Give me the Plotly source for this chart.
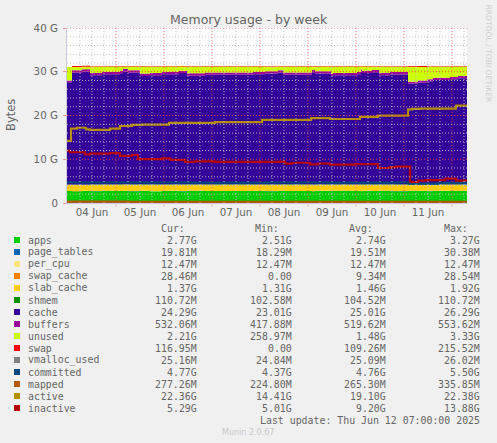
import pandas as pd
import plotly.graph_objects as go

# hours after 04 Jun 00:00 where the stacked areas change
stack_hours = [-0.5, 2, 7, 11, 17, 26, 27.5, 30, 36, 41, 47, 55.5, 59.5, 68.5, 92.5, 98.5, 105, 107.5,
               122, 123.5, 131.5, 132.5, 144.5, 146.5, 147, 152, 155.5, 161, 170, 175, 179.5, 182.5,
               191, 195, 199.5]

apps = [2.72, 2.68, 2.74, 2.7, 2.76, 2.72, 2.78, 2.7, 2.74, 2.69, 2.75, 2.71, 2.77, 2.72, 2.74, 2.7, 2.76, 2.72,
        2.68, 2.75, 2.71, 2.77, 2.73, 2.69, 2.74, 2.72, 2.76, 2.7, 2.73, 2.75, 2.71, 2.74, 2.76, 2.72, 2.77]
page_tables = [0.02] * 35
per_cpu = [0.012] * 35
swap_cache = [0.0, 0.01, 0.01, 0.01, 0.01, 0.01, 0.01, 0.01, 0.01, 0.01, 0.01, 0.01, 0.01, 0.01, 0.01, 0.01, 0.01, 0.01,
              0.01, 0.01, 0.01, 0.01, 0.01, 0.01, 0.01, 0.01, 0.01, 0.01, 0.02, 0.02, 0.03, 0.03, 0.03, 0.03, 0.03]
slab_cache = [1.4, 1.38, 1.36, 1.42, 1.37, 1.41, 1.38, 1.44, 1.4, 1.43, 1.38, 1.42, 1.37, 1.41, 1.39, 1.42, 1.38, 1.41,
              1.43, 1.38, 1.41, 1.37, 1.4, 1.43, 1.39, 1.4, 1.37, 1.42, 1.39, 1.37, 1.41, 1.38, 1.36, 1.4, 1.37]
shmem = [0.105] * 34 + [0.11]
cache = [23.32, 25.62, 25.82, 24.92, 25.17, 25.37, 25.77, 25.52, 24.77, 24.92, 25.17, 25.42, 24.82, 25.02, 25.17,
         25.32, 25.52, 25.02, 25.62, 25.32, 24.72, 24.92, 25.17, 25.72, 25.42, 25.62, 24.92, 25.12, 23.02, 23.27,
         23.52, 23.82, 24.02, 24.22, 24.29]
buffers = [0.45, 0.52, 0.53, 0.53, 0.53, 0.53, 0.53, 0.53, 0.53, 0.53, 0.53, 0.53, 0.53, 0.53, 0.53, 0.53, 0.53, 0.53,
           0.53, 0.53, 0.53, 0.53, 0.53, 0.53, 0.53, 0.53, 0.53, 0.53, 0.42, 0.45, 0.48, 0.5, 0.52, 0.53, 0.53]
unused = [3.05, 0.75, 0.55, 1.45, 1.2, 1.0, 0.6, 0.85, 1.6, 1.45, 1.2, 0.95, 1.55, 1.35, 1.2, 1.05, 0.85, 1.35,
          0.75, 1.05, 1.65, 1.45, 1.2, 0.65, 0.95, 0.75, 1.45, 1.25, 3.35, 3.1, 2.85, 2.55, 2.35, 2.15, 2.08]
swap = [0.0, 0.215, 0.215, 0.115, 0.115, 0.115, 0.115, 0.115, 0.115, 0.115, 0.115, 0.115, 0.115, 0.115, 0.115, 0.115,
        0.115, 0.115, 0.115, 0.115, 0.115, 0.115, 0.115, 0.115, 0.115, 0.115, 0.115, 0.115, 0.215, 0.215, 0.115, 0.115,
        0.115, 0.115, 0.117]

vmalloc_used = [0.025, 0.025]
vmalloc_hours = [-0.5, 199.5]
committed = [4.7, 4.7, 4.65, 4.7, 4.68, 4.7, 4.45, 4.6, 4.77]
committed_hours = [-0.5, 30, 60, 100, 130, 165, 170.5, 185, 199.5]
mapped = [0.3, 0.28, 0.26, 0.27, 0.25, 0.28, 0.277]
mapped_hours = [-0.5, 30, 60, 100, 140, 170, 199.5]

active_hours = [-0.5, 1.5, 4.5, 9, 11, 21, 26, 32, 37, 50.5, 73.5, 97, 121.5, 131, 146, 155, 170, 172, 176, 194, 199.5]
active = [14.2, 17.0, 17.2, 16.85, 16.7, 17.0, 17.6, 17.85, 17.9, 18.3, 18.5, 19.0, 19.4, 19.2, 19.7, 19.95, 21.4,
          21.5, 21.55, 22.25, 22.36]

inactive_hours = [-0.5, 1, 8.5, 11, 21, 26, 32, 35, 47, 51, 58.5, 63.5, 73.5, 106, 108.5, 112, 121, 125, 131, 143.5,
                  155, 161, 164, 170, 171, 175, 178.5, 188.5, 194, 199.5]
inactive = [11.95, 11.6, 11.1, 11.3, 11.4, 10.75, 11.0, 10.05, 10.2, 9.85, 9.4, 9.5, 9.4, 9.45, 9.0, 9.2, 8.85, 9.0,
            8.75, 8.9, 8.0, 8.2, 8.3, 8.3, 4.8, 5.1, 5.25, 5.55, 5.1, 5.2]

stack_names = ["apps", "page_tables", "per_cpu", "swap_cache", "slab_cache", "shmem", "cache", "buffers", "unused", "swap"]
line_names = ["vmalloc_used", "committed", "mapped", "active", "inactive"]
colors = ["#00CC00", "#0066B3", "#FFE680", "#FF8000", "#FFCC00", "#008F00", "#330099", "#990099", "#CCFF00", "#FF0000",
          "#808080", "#00487D", "#B35A00", "#B38F00", "#B30000"]

cur = ["2.77G", "19.81M", "12.47M", "28.46M", "1.37G", "110.72M", "24.29G", "532.06M", "2.21G", "116.95M",
       "25.16M", "4.77G", "277.26M", "22.36G", "5.29G"]
mins = ["2.51G", "18.29M", "12.47M", "0.00", "1.31G", "102.58M", "23.01G", "417.88M", "258.97M", "0.00",
        "24.84M", "4.37G", "224.80M", "14.41G", "5.01G"]
avg = ["2.74G", "19.51M", "12.47M", "9.34M", "1.46G", "104.52M", "25.01G", "519.62M", "1.48G", "109.26M",
       "25.09M", "4.76G", "265.30M", "19.10G", "9.20G"]
maxs = ["3.27G", "30.38M", "12.47M", "28.54M", "1.92G", "110.72M", "26.29G", "553.62M", "3.33G", "215.52M",
        "26.02M", "5.50G", "335.85M", "22.38G", "13.88G"]

y_tick_vals = [0, 10, 20, 30, 40]
y_tick_text = ["0", "10 G", "20 G", "30 G", "40 G"]
day_labels = ["04 Jun", "05 Jun", "06 Jun", "07 Jun", "08 Jun", "09 Jun", "10 Jun", "11 Jun"]

WIDTH, HEIGHT = 497, 443
LEFT, RIGHT, TOP, BOTTOM = 67, 467, 28, 203
GREY = "#666666"
MONO = "DejaVu Sans Mono"
GRID_MAJOR = "rgba(240,70,70,0.85)"
GRID_MINOR = "rgba(190,190,190,0.9)"


def when(hours):
    return pd.Timestamp("2025-06-04") + pd.to_timedelta(hours, unit="h")


def px_x(x):
    return (x - LEFT) / (RIGHT - LEFT)


def px_y(y):
    return (BOTTOM - y) / (BOTTOM - TOP)


def label(x, y, text, anchor="left", size=9.9, color=GREY, family=MONO, angle=0):
    return dict(x=px_x(x), y=px_y(y), xref="paper", yref="paper", text=text, showarrow=False, xanchor=anchor,
                yanchor="middle", textangle=angle, font=dict(family=family, size=size, color=color))


fig = go.Figure()

stack_values = [apps, page_tables, per_cpu, swap_cache, slab_cache, shmem, cache, buffers, unused, swap]
for name, values, color in zip(stack_names, stack_values, colors):
    fig.add_trace(go.Scatter(x=when(stack_hours), y=values, name=name, mode="lines", stackgroup="mem",
                             fillcolor=color, line=dict(color=color, width=0, shape="hv"), showlegend=False))

line_hours = [vmalloc_hours, committed_hours, mapped_hours, active_hours, inactive_hours]
line_values = [vmalloc_used, committed, mapped, active, inactive]
for name, hours, values, color in zip(line_names, line_hours, line_values, colors[10:]):
    fig.add_trace(go.Scatter(x=when(hours), y=values, name=name, mode="lines",
                             line=dict(color=color, width=2.2, shape="hv"), showlegend=False))

# rrdtool paints its grid over the areas, so the grid is shapes and not axis gridlines
shapes = []
x_start = when(-0.5)
x_end = when(199.5)
for g in range(2, 41, 2):
    major = g % 10 == 0
    shapes.append(dict(type="line", layer="above", xref="x", yref="y", x0=x_start, x1=x_end, y0=g, y1=g,
                       line=dict(color=GRID_MAJOR if major else GRID_MINOR, width=1, dash="1px,2px")))
for h in range(6, 200, 6):
    major = h % 24 == 0
    shapes.append(dict(type="line", layer="above", xref="x", yref="paper", x0=when(h), x1=when(h),
                       y0=-0.018 if major else 0, y1=1,
                       line=dict(color=GRID_MAJOR if major else GRID_MINOR, width=1, dash="1px,2px")))

# axis arrows
shapes.append(dict(type="path", layer="above", xref="x", yref="y", xsizemode="pixel", ysizemode="pixel",
                   xanchor=x_start, yanchor=40, path="M -3 0 L 3 0 L 0 6 Z",
                   fillcolor="#D0D4F4", line=dict(width=0)))
shapes.append(dict(type="path", layer="above", xref="x", yref="y", xsizemode="pixel", ysizemode="pixel",
                   xanchor=x_end, yanchor=0, path="M 0 -3 L 0 3 L 6 0 Z",
                   fillcolor="#D0D4F4", line=dict(width=0)))

annotations = [
    label(248.5, 20, "Memory usage - by week", anchor="center", size=12.5, color="#666666", family="DejaVu Sans"),
    label(11, 115, "Bytes", anchor="center", size=11.5, color=GREY, family="DejaVu Sans", angle=-90),
    label(488, 53.5, "RRDTOOL / TOBI OETIKER", anchor="center", size=7.6, color="#cfcfcf", family="DejaVu Sans", angle=90),
    label(186.7, 228, "Cur:", anchor="right"),
    label(280.7, 228, "Min:", anchor="right"),
    label(374.7, 228, "Avg:", anchor="right"),
    label(470, 228, "Max:", anchor="right"),
    label(482, 420, "Last update: Thu Jun 12 07:00:00 2025", anchor="right"),
    label(248, 432, "Munin 2.0.67", anchor="center", size=8, color="#c8c8c8", family="DejaVu Sans"),
]

names = stack_names + line_names
for i, name in enumerate(names):
    row_y = 240 + i * 12
    shapes.append(dict(type="rect", xref="paper", yref="paper", x0=px_x(14), x1=px_x(20), y0=px_y(row_y - 3),
                       y1=px_y(row_y + 3), fillcolor=colors[i], line=dict(width=0)))
    annotations.append(label(26, row_y, name))
    annotations.append(label(199, row_y, cur[i], anchor="right"))
    annotations.append(label(293.7, row_y, mins[i], anchor="right"))
    annotations.append(label(387.7, row_y, avg[i], anchor="right"))
    annotations.append(label(482, row_y, maxs[i], anchor="right"))

fig.update_layout(
    width=WIDTH,
    height=HEIGHT,
    margin=dict(l=LEFT, r=WIDTH - RIGHT, t=TOP, b=HEIGHT - BOTTOM, pad=0),
    paper_bgcolor="#F0F0F0",
    plot_bgcolor="#FFFFFF",
    showlegend=False,
    shapes=shapes,
    annotations=annotations,
    xaxis=dict(
        range=[x_start, x_end],
        tickvals=[when(12 + 24 * i) for i in range(len(day_labels))],
        ticktext=day_labels,
        ticks="",
        showgrid=False,
        zeroline=False,
        showline=True,
        linecolor="#C9CCE0",
        linewidth=1,
        tickfont=dict(family="DejaVu Sans", size=10.3, color=GREY),
    ),
    yaxis=dict(
        range=[0, 40],
        tickvals=y_tick_vals,
        ticktext=y_tick_text,
        ticks="outside",
        ticklen=3,
        ticklabelstandoff=3,
        tickcolor="rgba(235,80,80,0.55)",
        showgrid=False,
        zeroline=False,
        showline=True,
        linecolor="#C9CCE0",
        linewidth=1,
        tickfont=dict(family="DejaVu Sans", size=10.3, color=GREY),
    ),
)

fig.write_html("out.html", config=dict(displayModeBar=False),
               post_script="document.body.style.margin='0';")
